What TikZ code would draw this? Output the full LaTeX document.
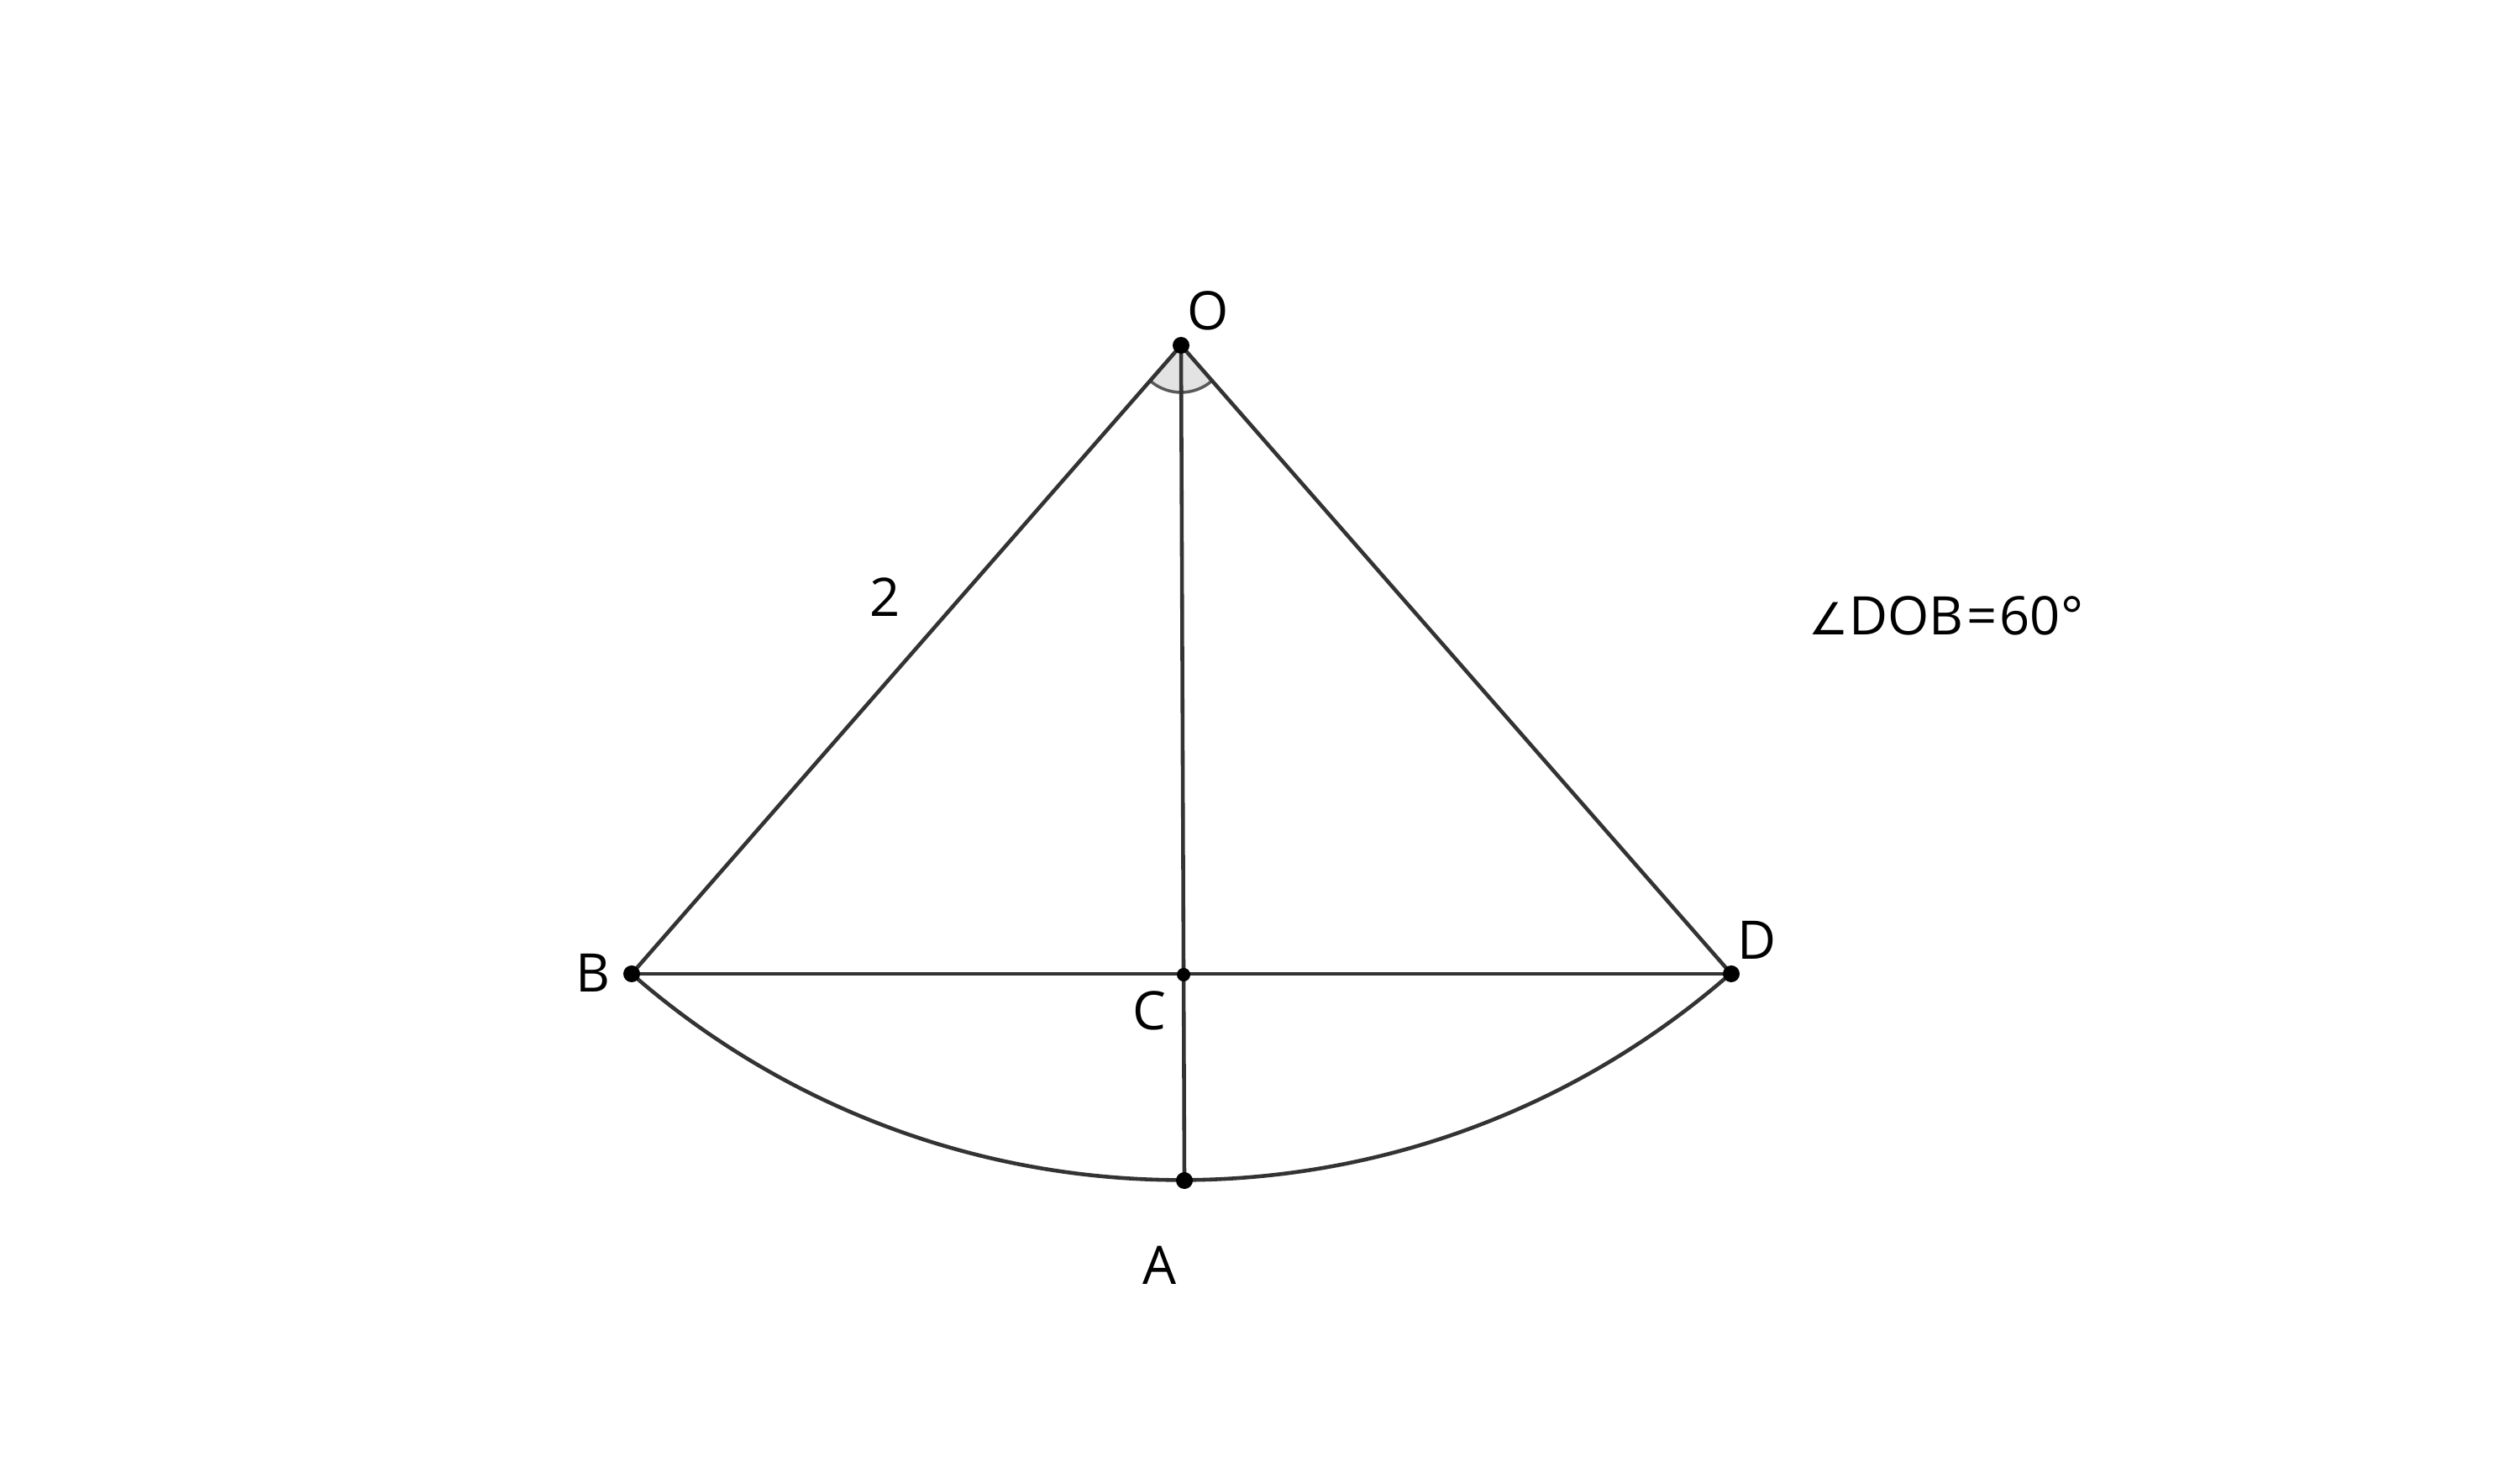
\documentclass[tikz,border=0pt]{standalone}
\usepackage{fontspec}
\setmainfont{Open Sans}
\newfontfamily\symfont{DejaVu Sans}
\usetikzlibrary{calc}

\begin{document}
\begin{tikzpicture}[seg/.style={draw=black!80,line width=1.3pt},pt/.style={fill=black},lbl/.style={font=\fontsize{18}{20}\selectfont,inner sep=0pt}]
    \useasboundingbox (0,0) rectangle (30,17.58);
    \coordinate (O) at (14.06,13.47);
    \coordinate (B) at (7.52,5.99);
    \coordinate (D) at (20.61,5.99);
    \coordinate (C) at (14.09,5.98);
    \coordinate (A) at (14.10,3.53);
    % angle mark at O
    \fill[black!11] (O) -- ++(228.86:0.56) arc[start angle=228.86,end angle=311.18,radius=0.56] -- cycle;
    \draw[black!65,line width=1pt] (O) ++(228.86:0.56) arc[start angle=228.86,end angle=311.18,radius=0.56];
    \draw[seg] (O) -- (B);
    \draw[seg] (O) -- (D);
    \draw[seg] (B) -- (D);
    \draw[seg] (O) -- (A);
    \draw[seg] (B) arc[start angle=228.86,end angle=311.18,radius=9.94];
    \foreach \p in {O,B,D,A} {
        \fill[pt] (\p) circle (0.1);
    }
    \fill[pt] (C) circle (0.08);
    \node[lbl] (lO) at (14.38,13.88) {O};
    \node[lbl] (lB) at (7.06,6.00) {B};
    \node[lbl] (lD) at (20.92,6.39) {D};
    \node[lbl] (lC) at (13.68,5.55) {C};
    \node[lbl] (lA) at (13.80,2.52) {A};
    \node[lbl] (len) at (10.54,10.47) {2};
    \node[lbl] (ang) at (23.17,10.25) {{\symfont\fontsize{15}{18}\selectfont ∠}DOB\kern1pt=\kern1pt60°};
\end{tikzpicture}
\end{document}
